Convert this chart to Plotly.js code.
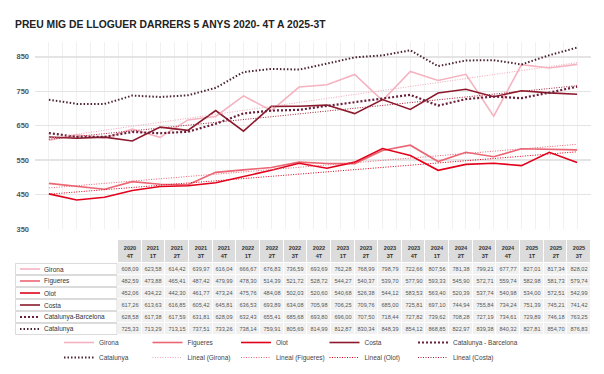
<!DOCTYPE html>
<html><head><meta charset="utf-8">
<script src="https://cdn.plot.ly/plotly-3.0.1.min.js"></script>
<style>html,body{margin:0;padding:0;background:#fff}</style>
</head><body><div id="chart" style="width:604px;height:374px"></div>
<script>
// ---- data ----
const years    = ['2020','2021','2021','2021','2021','2022','2022','2022','2022','2023','2023','2023','2023','2024','2024','2024','2024','2025','2025','2025'];
const quarters = ['4T','1T','2T','3T','4T','1T','2T','3T','4T','1T','2T','3T','4T','1T','2T','3T','4T','1T','2T','3T'];
const girona   = [608.09,623.58,614.42,639.97,616.04,666.67,676.83,736.59,693.69,762.28,768.99,798.79,722.66,807.56,781.38,799.21,677.77,827.01,817.34,828.02];
const figueres = [482.59,473.88,465.41,487.42,479.99,478.30,514.39,521.72,528.72,544.27,540.37,539.70,577.90,593.33,545.90,572.71,559.74,582.98,581.73,579.74];
const olot     = [452.06,434.22,442.30,461.77,473.24,475.76,484.08,502.03,520.60,540.68,526.38,544.12,583.53,563.40,520.39,537.74,540.98,534.00,572.51,542.99];
const costa    = [617.26,613.63,616.85,605.42,645.81,636.53,693.89,634.08,705.98,706.25,709.76,685.00,725.81,697.10,744.94,755.84,734.24,751.39,745.21,741.42];
const catBcn   = [628.58,617.38,617.59,631.81,628.09,632.43,655.41,685.68,693.80,696.00,707.50,718.44,727.82,739.62,708.28,727.19,734.61,729.89,746.18,763.25];
const catalunya= [725.33,713.29,713.15,737.51,733.26,738.14,759.91,805.69,814.99,812.87,830.34,848.39,854.12,868.85,822.97,839.38,840.32,827.81,854.70,876.83];
const seriesNames = ['Girona','Figueres','Olot','Costa','Catalunya-Barcelona','Catalunya'];
const legendNames = ['Girona','Figueres','Olot','Costa','Catalunya - Barcelona','Catalunya'];
const trendNames  = ['Girona','Figueres','Olot','Costa'];
const yTicks = [350,450,550,650,750,850];
const TITLE = 'PREU MIG DE LLOGUER DARRERS 5 ANYS 2020- 4T A 2025-3T';

// ---- styles ----
const FONT = '"Liberation Sans Narrow","Liberation Sans",Arial,sans-serif';
// size the title so that it spans the same width as in the reference
const ctx = document.createElement('canvas').getContext('2d');
ctx.font = 'bold 10px ' + FONT;
const titleSize = Math.max(9, Math.min(15, 10 * 312 / ctx.measureText(TITLE).width));

const styles = [
  {color:'#f5b3c0', width:1.6, dash:'solid'},
  {color:'#ea6674', width:1.6, dash:'solid'},
  {color:'#e2001a', width:1.6, dash:'solid'},
  {color:'#8c1a2c', width:1.6, dash:'solid'},
  {color:'#6a2039', width:2.2, dash:'2px,2px'},
  {color:'#4a2331', width:2.0, dash:'1.5px,2px'}
];
const trendColors = ['#f2a9b7','#ea6674','#e2001a','#a52036'];
const allSeries = [girona, figueres, olot, costa, catBcn, catalunya];
const xs = quarters.map((q,i)=>i);
const W=604,H=374;

function linfit(y){
  const n=y.length; let sx=0,sy=0,sxx=0,sxy=0;
  y.forEach((v,i)=>{sx+=i;sy+=v;sxx+=i*i;sxy+=i*v;});
  const b=(n*sxy-sx*sy)/(n*sxx-sx*sx); const a=(sy-b*sx)/n;
  return y.map((v,i)=>a+b*i);
}
// legend assignment: columns 1-4 row 1 -> legend, row 2 -> legend2; column 5 -> legend3 (row 1), legend4 (row 2)
const mainLegend = ['legend','legend','legend','legend','legend3','legend2'];
const trendLegend = ['legend2','legend2','legend2','legend4'];

const traces = [];
allSeries.forEach((s,k)=>{
  traces.push({x:xs,y:s,type:'scatter',mode:'lines',name:legendNames[k],
    line:{color:styles[k].color,width:styles[k].width,dash:styles[k].dash},
    legend: mainLegend[k], hoverinfo:'skip'});
});
trendNames.forEach((nm,k)=>{
  traces.push({x:xs,y:linfit(allSeries[k]),type:'scatter',mode:'lines',name:'Lineal ('+nm+')',
    line:{color:trendColors[k],width:1,dash:'1px,1.5px'},legend:trendLegend[k],hoverinfo:'skip'});
});

// ---- data table drawn as a heatmap on its own axes (units = px) ----
const fmt = v => v.toFixed(2).replace('.',',');
const labelW = 103, colW = 23.65, headH = 23, rowH = 12;
const xEdges = [labelW].concat(xs.map(i => labelW + colW*(i+1)));
const yEdges = [0, headH].concat(seriesNames.map((n,k)=> headH + rowH*(k+1)));
const zTable = [xs.map(()=>1)].concat(seriesNames.map(()=>xs.map(()=>0)));
const tTable = [xs.map(i=>'<span style="color:#333"><b>'+years[i]+'</b><br><b>'+quarters[i]+'</b></span>')]
  .concat(allSeries.map(s => xs.map(i => fmt(s[i]))));
const tblTop=240, tblBot=tblTop+headH+rowH*seriesNames.length;
const tblLeft=15, tblRight=tblLeft+labelW+colW*xs.length;
traces.push({
  type:'heatmap', xaxis:'x2', yaxis:'y2', x:xEdges, y:yEdges, z:zTable,
  zmin:0,zmax:1, colorscale:[[0,'#f1f1f1'],[1,'#dcdcdc']], showscale:false,
  xgap:1, ygap:1, text:tTable, texttemplate:'%{text}',
  textfont:{family:FONT,size:5.6,color:'#555'}, hoverinfo:'skip', showlegend:false
});

const shapes=[], annotations=[];
seriesNames.forEach((n,k)=>{
  const y0 = headH + rowH*k, yc = y0 + rowH/2;
  shapes.push({type:'rect',xref:'x2',yref:'y2',x0:0.5,x1:labelW-1,y0:y0+0.5,y1:y0+rowH-0.5,
    fillcolor:'#ffffff',line:{color:'#d2d2d2',width:0.8},layer:'below'});
  shapes.push({type:'line',xref:'x2',yref:'y2',x0:5,x1:25,y0:yc,y1:yc,
    line:{color:styles[k].color,width:styles[k].width,dash:styles[k].dash}});
  annotations.push({xref:'x2',yref:'y2',x:27,y:yc,xanchor:'left',yanchor:'middle',showarrow:false,
    text:n,font:{family:FONT,size:6.5,color:'#333'}});
});

const legendBase = {orientation:'h',xref:'container',yref:'container',xanchor:'left',yanchor:'top',
  entrywidth:43.5,entrywidthmode:'pixels',font:{family:FONT,size:6.5,color:'#444'},
  bgcolor:'rgba(0,0,0,0)',tracegroupgap:0};

const layout = {
  width:W,height:H,margin:{l:0,r:0,t:0,b:0,autoexpand:false},
  paper_bgcolor:'#ffffff',plot_bgcolor:'rgba(0,0,0,0)',
  font:{family:FONT,color:'#444'},
  title:{text:TITLE,
    x:15/W,xanchor:'left',xref:'container',y:1-24/H,yanchor:'middle',yref:'container',
    font:{family:FONT,size:titleSize,weight:'bold',color:'#222'}},
  xaxis:{domain:[35/W,591/W],range:[-0.5,19.5],tickmode:'array',
    tickvals:xs.concat(xs.map(i=>i-0.5)).concat([19.5]),showticklabels:false,ticks:'',
    showgrid:true,gridcolor:'#f1f1f1',gridwidth:1,zeroline:false,showline:false,fixedrange:true},
  yaxis:{domain:[1-229/H,1-42/H],range:[350,893],tickmode:'array',tickvals:yTicks,
    ticktext:yTicks.map(String),ticks:'',ticklabelstandoff:5,
    tickfont:{family:FONT,size:7.5,weight:'bold',color:'#555'},
    showgrid:true,gridcolor:'#e4e4e4',gridwidth:1.5,zeroline:false,showline:false,fixedrange:true},
  xaxis2:{domain:[tblLeft/W,tblRight/W],range:[0,tblRight-tblLeft],anchor:'y2',visible:false,fixedrange:true},
  yaxis2:{domain:[1-tblBot/H,1-tblTop/H],range:[tblBot-tblTop,0],anchor:'x2',visible:false,fixedrange:true},
  showlegend:true,
  legend:Object.assign({},legendBase,{x:59/W,y:1-328/H}),
  legend2:Object.assign({},legendBase,{x:59/W,y:1-343/H}),
  legend3:Object.assign({},legendBase,{x:413/W,y:1-328/H,entrywidth:0}),
  legend4:Object.assign({},legendBase,{x:413/W,y:1-343/H,entrywidth:0}),
  shapes:shapes, annotations:annotations
};
Plotly.newPlot('chart',traces,layout,{displayModeBar:false,staticPlot:true});
</script></body></html>
